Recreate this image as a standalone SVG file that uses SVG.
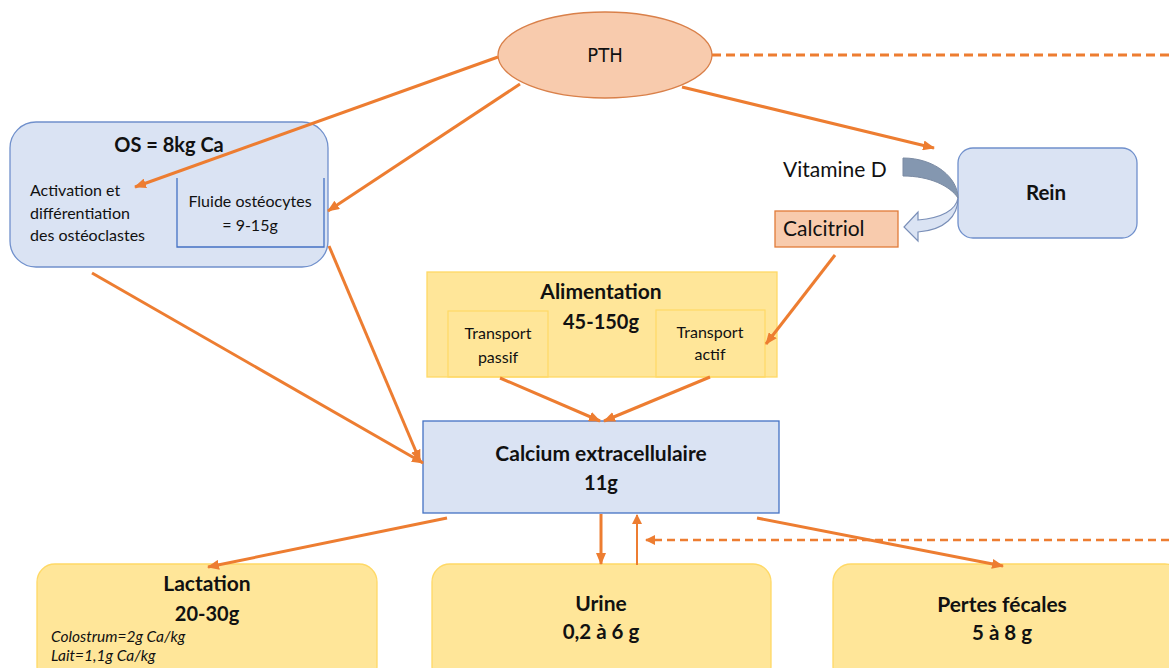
<svg xmlns="http://www.w3.org/2000/svg" width="1169" height="668" viewBox="0 0 1169 668">
  <defs>
    <marker id="ah" viewBox="0 0 12 10" refX="11" refY="5" markerWidth="12" markerHeight="10" markerUnits="userSpaceOnUse" orient="auto">
      <path d="M0,0 L12,5 L0,10 Z" fill="#ed7d31"/>
    </marker>
    <marker id="ahs" viewBox="0 0 10 10" refX="9" refY="5" markerWidth="10" markerHeight="10" markerUnits="userSpaceOnUse" orient="auto">
      <path d="M0,0 L10,5 L0,10 Z" fill="#ed7d31"/>
    </marker>
  </defs>
  <style>
    text { font-family: Lato, "Open Sans", "Liberation Sans", sans-serif; fill: #111; }
    .b { font-weight: bold; }
    .c { text-anchor: middle; }
    .blue { fill: #dae3f3; stroke: #7090cc; stroke-width: 1.3; }
    .yel { fill: #ffe699; stroke: #ffd966; stroke-width: 1.3; }
    .inyel { fill: none; stroke: #ffd966; stroke-width: 1.2; }
    .arr { stroke: #ed7d31; stroke-width: 3; fill: none; marker-end: url(#ah); }
    .thin { stroke: #ed7d31; stroke-width: 2; fill: none; marker-end: url(#ahs); }
    .dash { stroke: #ed7d31; stroke-width: 3; fill: none; stroke-dasharray: 9 5; }
    .it { font-size: 15.5px; font-style: italic; }
  </style>
  <rect width="1169" height="668" fill="#ffffff"/>

  <!-- PTH hormone -->
  <g id="pth">
    <ellipse cx="605" cy="55" rx="107" ry="43" fill="#f8cbad" stroke="#d9804a" stroke-width="1.3"/>
    <text x="605" y="62" class="c" style="font-family:'DejaVu Sans Condensed','Liberation Sans',sans-serif;font-size:20px">PTH</text>
  </g>

  <!-- Bone reservoir -->
  <g id="os">
    <rect x="10" y="122" width="318" height="145" rx="26" class="blue"/>
    <text x="169" y="152" class="b c" style="font-size:20px">OS = 8kg Ca</text>
    <text x="30" y="196" style="font-size:16px">Activation et</text>
    <text x="30" y="219" style="font-size:16px">différentiation</text>
    <text x="30" y="241" style="font-size:16px">des ostéoclastes</text>
    <path d="M177,178 L177,247 L324,247 L324,178" fill="none" stroke="#4472c4" stroke-width="1.3"/>
    <text x="250" y="207" class="c" style="font-size:16px">Fluide ostéocytes</text>
    <text x="250" y="231" class="c" style="font-size:16px">= 9-15g</text>
  </g>

  <!-- Kidney -->
  <g id="rein">
    <rect x="958" y="148" width="179" height="90" rx="15" class="blue"/>
    <text x="1046" y="200" class="b c" style="font-size:20.5px">Rein</text>
  </g>

  <!-- Vitamin D conversion -->
  <g id="vitamine-d">
    <text x="783" y="177" style="font-size:21px">Vitamine D</text>
    <path d="M903,158 C935,158 958,178 958,198 C950,186 930,176 903,176 Z" fill="#8497b0" stroke="#7a8aa3" stroke-width="1"/>
    <path d="M958,198 C956,210 942,218 918,220 L918,212 L904,227 L918,241 L918,232 C945,230 958,216 958,198 Z" fill="#dae3f3" stroke="#7a8fb8" stroke-width="1.2"/>
  </g>

  <g id="calcitriol">
    <rect x="775" y="211" width="123" height="36" fill="#f8cbad" stroke="#e07b39" stroke-width="1.3"/>
    <text x="783" y="236" style="font-size:21px">Calcitriol</text>
  </g>

  <!-- Dietary intake -->
  <g id="alimentation">
    <rect x="427" y="272" width="350" height="105" class="yel"/>
    <rect x="448" y="311" width="100" height="66" class="inyel"/>
    <rect x="656" y="310" width="109" height="67" class="inyel"/>
    <text x="601" y="299" class="b c" style="font-size:21px">Alimentation</text>
    <text x="601" y="329" class="b c" style="font-size:20px">45-150g</text>
    <text x="498" y="339" class="c" style="font-size:16px">Transport</text>
    <text x="498" y="363" class="c" style="font-size:16px">passif</text>
    <text x="710" y="338" class="c" style="font-size:16px">Transport</text>
    <text x="710" y="360" class="c" style="font-size:16px">actif</text>
  </g>

  <!-- Extracellular pool -->
  <g id="calcium">
    <rect x="423" y="421" width="356" height="92" fill="#dae3f3" stroke="#4472c4" stroke-width="1.3"/>
    <text x="601" y="461" class="b c" style="font-size:21px">Calcium extracellulaire</text>
    <text x="601" y="490" class="b c" style="font-size:20px">11g</text>
  </g>

  <!-- Outputs -->
  <g id="lactation">
    <rect x="37" y="564" width="340" height="120" rx="18" class="yel"/>
    <text x="207" y="591" class="b c" style="font-size:21px">Lactation</text>
    <text x="207" y="621" class="b c" style="font-size:20px">20-30g</text>
    <text x="51" y="642" class="it">Colostrum=2g Ca/kg</text>
    <text x="51" y="661" class="it">Lait=1,1g Ca/kg</text>
  </g>

  <g id="urine">
    <rect x="432" y="564" width="339" height="120" rx="18" class="yel"/>
    <text x="601" y="611" class="b c" style="font-size:21px">Urine</text>
    <text x="601" y="639" class="b c" style="font-size:20.5px">0,2 à 6 g</text>
  </g>

  <g id="pertes-fecales">
    <rect x="833" y="564" width="350" height="120" rx="18" class="yel"/>
    <text x="1002" y="612" class="b c" style="font-size:21px">Pertes fécales</text>
    <text x="1002" y="640" class="b c" style="font-size:20.5px">5 à 8 g</text>
  </g>

  <!-- Connectors -->
  <g id="connectors">
    <line x1="712" y1="55" x2="1169" y2="55" class="dash"/>
    <line x1="498" y1="57" x2="135" y2="187" class="arr"/>
    <line x1="520" y1="84" x2="328" y2="211" class="arr"/>
    <line x1="682" y1="87" x2="934" y2="148" class="arr"/>
    <line x1="92" y1="273" x2="423" y2="463" class="arr"/>
    <line x1="329" y1="246" x2="420" y2="461" class="arr"/>
    <line x1="835" y1="255" x2="766" y2="344" class="arr"/>
    <line x1="500" y1="378" x2="600" y2="421" class="arr"/>
    <line x1="710" y1="377" x2="604" y2="421" class="arr"/>
    <line x1="447" y1="518" x2="208" y2="567" class="arr"/>
    <line x1="601" y1="514" x2="601" y2="564" class="arr"/>
    <line x1="637" y1="565" x2="637" y2="515" class="thin"/>
    <line x1="1169" y1="540" x2="646" y2="540" class="dash" style="stroke-width:2.5;stroke-dasharray:8 5;marker-end:url(#ahs)"/>
    <line x1="757" y1="518" x2="1003" y2="566" class="arr"/>
  </g>
</svg>
